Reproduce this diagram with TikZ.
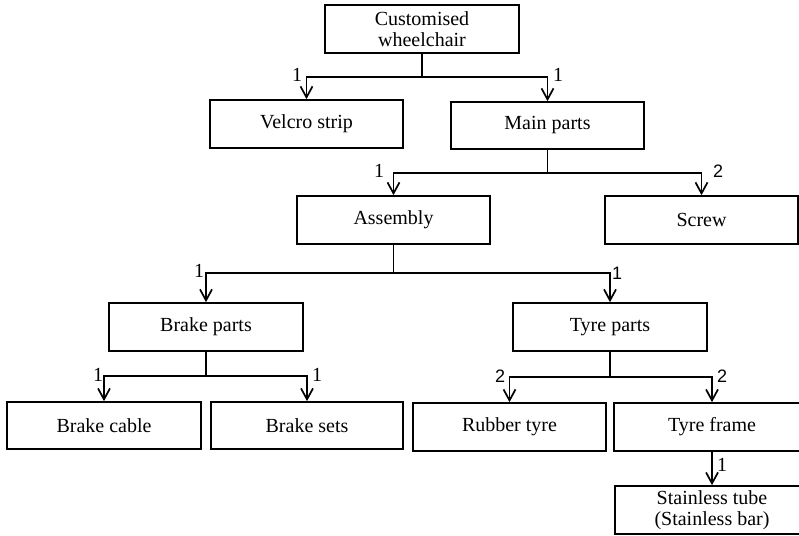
\documentclass[tikz,border=0pt]{standalone}
\usepackage{fontspec}
\setmainfont{Liberation Serif}
\newfontfamily\lblsans{Liberation Sans}
\usetikzlibrary{arrows.meta}
\tikzset{
  box/.style={draw, line width=1.7pt, minimum width=193pt, minimum height=47pt, inner sep=0pt, align=center, font=\fontsize{20pt}{22pt}\selectfont, fill=white},
  link/.style={line width=1.7pt},
  arr/.style={line width=1.7pt, -{Straight Barb[length=11pt,width=12pt,line width=1.7pt]}},
  num/.style={inner sep=0pt, font=\fontsize{20pt}{22pt}\selectfont},
  nums/.style={inner sep=0pt, font=\lblsans\fontsize{18pt}{20pt}\selectfont}
}
\begin{document}
\begin{tikzpicture}[x=1pt,y=-1pt]
\useasboundingbox[fill=white] (0,0) rectangle (799,535);
% nodes
\node[box, minimum width=194pt, minimum height=48pt, font=\fontsize{20pt}{21pt}\selectfont] (cw) at (422,29) {Customised\\wheelchair};
\node[box, minimum height=48pt] (vs) at (306.5,124) {Velcro strip};
\node[box] (mp) at (547.5,125.5) {Main parts};
\node[box, minimum height=48pt] (as) at (393.5,220) {Assembly};
\node[box, minimum height=48pt] (sc) at (701.5,220) {Screw};
\node[box, minimum width=194pt, minimum height=48pt] (bp) at (206,327) {Brake parts};
\node[box, minimum width=194pt, minimum height=48pt] (tp) at (610,327) {Tyre parts};
\node[box, minimum width=194pt] (bc) at (104,425.5) {Brake cable};
\node[box, minimum width=192pt] (bs) at (307,425.5) {Brake sets};
\node[box, minimum height=48pt] (rt) at (509.5,427) {Rubber tyre};
\node[box, minimum width=196pt, minimum height=48pt] (tf) at (712,427) {Tyre frame};
\node[box, minimum width=194pt, minimum height=48pt, font=\fontsize{20pt}{21pt}\selectfont] (st) at (712,510) {Stainless tube\\(Stainless bar)};
% junctions
\coordinate (j1) at (422,77);
\coordinate (j2) at (547.5,173);
\coordinate (j3) at (393.5,273);
\coordinate (j4) at (206,376);
\coordinate (j5) at (610,377);
% connectors
\draw[link] (cw.south) -- (j1);
\draw[arr] (j1) -| (vs.north);
\draw[arr] (j1) -| (mp.north);
\draw[link] (mp.south) -- (j2);
\draw[arr] (j2) -| (as.north);
\draw[arr] (j2) -| (sc.north);
\draw[link] (as.south) -- (j3);
\draw[arr] (j3) -| (bp.north);
\draw[arr] (j3) -| (tp.north);
\draw[link] (bp.south) -- (j4);
\draw[arr] (j4) -| (bc.north);
\draw[arr] (j4) -| (bs.north);
\draw[link] (tp.south) -- (j5);
\draw[arr] (j5) -| (rt.north);
\draw[arr] (j5) -| (tf.north);
\draw[arr] (tf.south) -- (st.north);
% labels
\node[num] (l1) at (297,75) {1};
\node[num] (l2) at (558,75) {1};
\node[num] (l3) at (379,171) {1};
\node[nums] (l4) at (718,171) {2};
\node[num] (l5) at (199,271) {1};
\node[nums] (l6) at (617,273) {1};
\node[num] (l7) at (98,375) {1};
\node[num] (l8) at (317,375) {1};
\node[nums] (l9) at (500,376) {2};
\node[nums] (l10) at (722,376) {2};
\node[num] (l11) at (722,465) {1};
\end{tikzpicture}
\end{document}
